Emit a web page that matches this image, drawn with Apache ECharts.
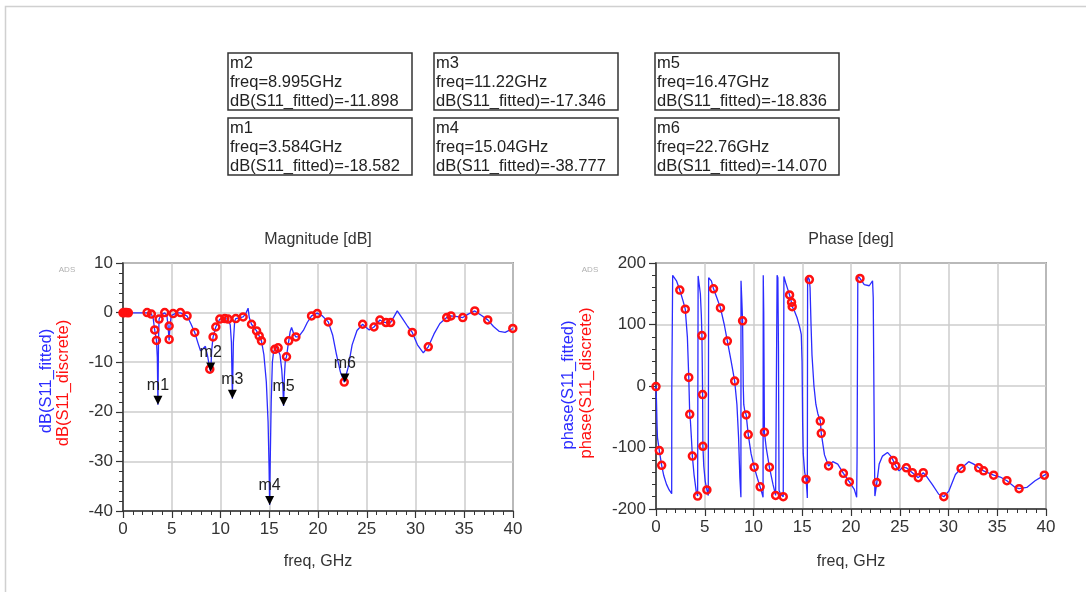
<!DOCTYPE html>
<html>
<head>
<meta charset="utf-8">
<title>S11 fitted / discrete</title>
<script src="https://cdn.jsdelivr.net/npm/echarts@6/dist/echarts.min.js"></script>
<style>
html, body { margin: 0; padding: 0; background: #fff; }
#chart { width: 1086px; height: 592px; }
</style>
</head>
<body>
<div id="chart"></div>
<script>
// ---------------------------数据-------------------------------
// [freq GHz, dB]
var magFitted = [
	[0, -0.05], [0.6, -0.05], [1.2, -0.05], [1.8, -0.05], [2.47, -0.05], [2.91, -0.3], [3.1, -1.2],
	[3.25, -3.5], [3.43, -5.6], [3.52, -9], [3.584, -18.58], [3.64, -6], [3.7, -1.3], [3.95, -0.4],
	[4.28, -0.05], [4.5, -0.6], [4.62, -2.7], [4.73, -5.6], [4.82, -2.7], [4.95, -0.6], [5.14, -0.2],
	[5.5, -0.05], [5.89, -0.05], [6.2, -0.3], [6.57, -0.7], [6.95, -2.2], [7.36, -4.0], [7.7, -6.2],
	[7.95, -7.7], [8.2, -7.3], [8.45, -6.8], [8.7, -9.0], [8.9, -11.4], [8.995, -11.9], [9.1, -7.5],
	[9.24, -4.9], [9.52, -2.9], [9.93, -1.3], [10.44, -1.2], [10.78, -1.3], [11.0, -2.5], [11.12, -6],
	[11.22, -17.35], [11.32, -6], [11.45, -1.8], [11.57, -1.2], [12.0, -1.0], [12.32, -0.87], [12.6, -0.2],
	[12.83, 0.9], [12.95, -1.0], [13.18, -2.35], [13.7, -3.7], [13.97, -4.7], [14.2, -5.7], [14.45, -8.5],
	[14.7, -14], [14.88, -22], [14.98, -31], [15.04, -38.78], [15.1, -30], [15.2, -18], [15.32, -10],
	[15.45, -7.8], [15.57, -7.4], [15.75, -6.9], [15.91, -7.1], [16.1, -8.5], [16.28, -11.5], [16.4, -15],
	[16.47, -18.84], [16.55, -13], [16.65, -9.5], [16.77, -8.9], [16.9, -7], [17.0, -5.7], [17.15, -3.8],
	[17.29, -3.0], [17.5, -4.2], [17.73, -4.9], [18.0, -4.9], [18.5, -3.6], [18.9, -2.0], [19.34, -0.67],
	[19.92, -0.1], [20.4, -0.6], [21.05, -1.87], [21.5, -4.5], [21.9, -8.5], [22.3, -12], [22.69, -14.0],
	[22.76, -14.07], [23.1, -11], [23.5, -6.5], [24.0, -3.6], [24.58, -2.35], [24.95, -3.0], [25.25, -3.5],
	[25.74, -2.9], [26.35, -1.5], [26.7, -1.9], [26.97, -2.0], [27.45, -2.0], [27.8, -0.8], [28.13, 0.34],
	[28.6, -1.0], [29.2, -2.8], [29.67, -4.0], [30.2, -6.5], [30.8, -8.1], [31.31, -6.9], [31.9, -4.3],
	[32.5, -2.2], [33.2, -1.0], [33.64, -0.67], [34.3, -0.8], [34.85, -1.0], [35.4, -0.3], [36.08, 0.34],
	[36.7, -0.5], [37.41, -1.47], [38.0, -2.8], [38.6, -3.8], [39.19, -4.0], [39.6, -3.6], [39.98, -3.2]
];
var magDiscrete = [
	[0, -0.05], [0.15, 0], [0.35, 0], [0.55, -0.05], [2.47, 0], [2.91, -0.3], [3.25, -3.5], [3.43, -5.6],
	[3.7, -1.3], [4.28, 0], [4.73, -2.7], [4.73, -5.4], [5.14, -0.2], [5.89, 0], [6.57, -0.67], [7.36, -4.0],
	[8.9, -11.4], [9.24, -4.9], [9.52, -2.9], [9.93, -1.3], [10.44, -1.2], [10.78, -1.3], [11.57, -1.2],
	[12.32, -0.87], [13.18, -2.35], [13.7, -3.7], [13.97, -4.7], [14.2, -5.7], [15.57, -7.4], [15.91, -7.1],
	[16.77, -8.9], [17.0, -5.7], [17.73, -4.9], [19.34, -0.67], [19.92, -0.2], [21.05, -1.87], [22.69, -14.0],
	[24.58, -2.35], [25.74, -2.9], [26.35, -1.5], [26.97, -2.0], [27.45, -2.0], [29.67, -4.0], [31.31, -6.9],
	[33.2, -1.0], [33.64, -0.67], [34.85, -1.0], [36.08, 0.34], [37.41, -1.47], [39.98, -3.2]
];
// [freq GHz, deg]
var phaseFitted = [
	[0, 0], [0.05, -25], [0.1, -60], [0.15, -84], [0.34, -105], [0.58, -129], [0.8, -146], [1.08, -160],
	[1.35, -169], [1.61, -175], [1.62, -8], [1.7, -8], [1.71, 180],
	[2.1, 171], [2.44, 156], [2.78, 138], [3.0, 125], [3.22, 79], [3.36, 14], [3.46, -46], [3.53, -57],
	[3.63, -84], [3.73, -114], [3.9, -144], [4.14, -173], [4.27, -179], [4.3, -181], [4.32, 179],
	[4.4, 176], [4.55, 150], [4.65, 115], [4.71, 82], [4.75, 30], [4.78, -14], [4.81, -98], [4.9, -130],
	[5.05, -155], [5.22, -169], [5.36, -178], [5.38, -181], [5.4, 176],
	[5.68, 171], [5.9, 158], [6.25, 143], [6.61, 127], [7.0, 100], [7.32, 73], [7.7, 41], [8.07, 8],
	[8.3, -30], [8.47, -84], [8.6, -149], [8.71, -181], [8.72, 171],
	[8.8, 140], [8.88, 106], [8.95, 0], [9.0, -30], [9.1, -40], [9.25, -47], [9.46, -79], [9.75, -110],
	[10.07, -132], [10.4, -150], [10.68, -164], [10.9, -176], [10.98, -181], [11.0, 180],
	[11.05, 120], [11.12, -75], [11.3, -100], [11.63, -132], [12.0, -160], [12.27, -178], [12.4, -181], [12.42, 180],
	[12.5, 176], [12.56, 60], [12.62, -170], [12.8, -176], [13.05, -180], [13.1, -182], [13.12, 178],
	[13.3, 168], [13.5, 158], [13.7, 148], [13.9, 136], [13.97, 129], [14.2, 122], [14.47, 111], [14.75, 95],
	[14.9, 84], [14.98, 40], [15.04, -60], [15.1, -110], [15.25, -140], [15.39, -152], [15.5, -175], [15.52, -182], [15.55, 178],
	[15.73, 173], [15.8, 160], [15.9, 100], [16.0, 50], [16.2, 0], [16.4, -30], [16.6, -45], [16.85, -57],
	[16.95, -77], [17.28, -112], [17.7, -130], [18.13, -123], [18.64, -127], [19.22, -142], [19.83, -156],
	[20.34, -168], [20.58, -181], [20.6, -182], [20.62, -122], [20.7, 179],
	[20.92, 175], [21.36, 165], [21.87, 163], [22.21, 171], [22.28, 144], [22.38, -68], [22.45, -179],
	[22.65, -157], [22.89, -127], [23.23, -114], [23.74, -108], [24.08, -114], [24.32, -121], [24.59, -130],
	[24.93, -138], [25.3, -132], [25.68, -133], [26.29, -141], [26.9, -149], [27.41, -141], [27.8, -148],
	[28.33, -160], [29.0, -176], [29.52, -180], [30.03, -171], [30.71, -144], [31.29, -134], [32.07, -123],
	[32.59, -127], [33.1, -133], [33.6, -138], [34.63, -145], [35.31, -148], [35.99, -154], [36.84, -165],
	[37.24, -167], [38.03, -165], [38.88, -154], [39.83, -145], [40, -143]
];
var phaseDiscrete = [
	[0, -1], [0.34, -105], [0.58, -129], [2.44, 156], [3.0, 125], [3.36, 14], [3.46, -46], [3.73, -114],
	[4.27, -179], [4.71, 82], [4.78, -14], [4.81, -98], [5.22, -169], [5.9, 158], [6.61, 127], [7.32, 73],
	[8.07, 8], [8.88, 106], [9.25, -47], [9.46, -79], [10.07, -132], [10.68, -164], [11.12, -75],
	[11.63, -132], [12.27, -178], [13.05, -180], [13.7, 148], [13.9, 136], [13.97, 129], [15.39, -152],
	[15.73, 173], [16.85, -57], [16.95, -77], [17.7, -130], [19.22, -142], [19.83, -156], [20.92, 175],
	[22.65, -157], [24.32, -121], [24.59, -130], [25.68, -133], [26.29, -141], [26.9, -149], [27.41, -141],
	[29.52, -180], [31.29, -134], [33.1, -133], [33.6, -138], [34.63, -145], [35.99, -154], [37.24, -167],
	[39.83, -145]
];
// 标记 m1..m6
var markerNames = ['m1', 'm2', 'm3', 'm4', 'm5', 'm6'];
var markerFreq = [3.584, 8.995, 11.22, 15.04, 16.47, 22.76];
var markerDb = [-18.582, -11.898, -17.346, -38.777, -18.836, -14.070];

// 轴范围
var freqMin = 0, freqMax = 40, freqStep = 5;
var magMin = -40, magMax = 10, magStep = 10;
var phaseMin = -200, phaseMax = 200, phaseStep = 100;

var FONT = '"Liberation Sans", Arial, sans-serif';
var BLUE = '#2b2bff';
var RED = '#ff1010';

var chart = echarts.init(document.getElementById('chart'));

function axisStyle(extra) {
	var a = {
		type : 'value',
		axisLine : { show : true, onZero : false, lineStyle : { color : '#333', width : 1.5 } },
		axisTick : { show : true, length : 7, lineStyle : { color : '#333', width : 1.2 } },
		minorTick : { show : true, splitNumber : 5, length : 4, lineStyle : { color : '#333', width : 1 } },
		axisLabel : { fontSize : 17, color : '#333', fontFamily : FONT, margin : 10 },
		splitLine : { show : true, lineStyle : { color : '#cccccc', width : 1.5 } }
	};
	for (var k in extra) a[k] = extra[k];
	return a;
}

// ---------------------------标记框-------------------------------
var boxPos = { m2 : [228, 53], m3 : [434, 53], m5 : [655, 53], m1 : [228, 118], m4 : [434, 118], m6 : [655, 118] };
var graphics = [];
markerNames.forEach(function(name, i) {
	var p = boxPos[name];
	graphics.push({
		type : 'rect', shape : { x : p[0], y : p[1], width : 184, height : 57 },
		style : { fill : '#fff', stroke : '#333', lineWidth : 1.5 }
	});
	graphics.push({
		type : 'text', x : p[0] + 2, y : p[1] + 1,
		style : {
			text : name + '\nfreq=' + markerFreq[i].toPrecision(4) + 'GHz\ndB(S11_fitted)=' + markerDb[i].toFixed(3),
			font : '16.5px ' + FONT, fill : '#222', lineHeight : 19
		}
	});
});

function label(text, x, y, size, color, rot) {
	return {
		type : 'text', x : x, y : y, rotation : rot || 0,
		style : { text : text, font : size + 'px ' + FONT, fill : color, align : 'center', verticalAlign : 'middle' }
	};
}
graphics.push(
	{ type : 'polyline', shape : { points : [[5.5, 592], [5.5, 6.5], [1086, 6.5]] }, style : { stroke : '#d0d0d0', lineWidth : 1.5, fill : null } },
	label('Magnitude [dB]', 318, 240, 16, '#333'),
	label('Phase [deg]', 851, 240, 16, '#333'),
	label('freq, GHz', 318, 562, 16, '#333'),
	label('freq, GHz', 851, 562, 16, '#333'),
	label('dB(S11_fitted)', 46, 381, 16.5, BLUE, Math.PI / 2),
	label('dB(S11_discrete)', 63, 383, 16.5, RED, Math.PI / 2),
	label('phase(S11_fitted)', 568, 385, 16.5, BLUE, Math.PI / 2),
	label('phase(S11_discrete)', 586, 383, 16.5, RED, Math.PI / 2),
	label('ADS', 67, 270, 8, '#b0b0b0'),
	label('ADS', 590, 270, 8, '#b0b0b0')
);

chart.setOption({
	animation : false,
	textStyle : { fontFamily : FONT },
	grid : [
		{ left : 123, top : 263, width : 390, height : 248, show : true, borderColor : '#555', borderWidth : 1.5, backgroundColor : 'transparent' },
		{ left : 656, top : 263, width : 390, height : 246, show : true, borderColor : '#555', borderWidth : 1.5, backgroundColor : 'transparent' }
	],
	xAxis : [
		axisStyle({ gridIndex : 0, min : freqMin, max : freqMax, interval : freqStep }),
		axisStyle({ gridIndex : 1, min : freqMin, max : freqMax, interval : freqStep })
	],
	yAxis : [
		axisStyle({ gridIndex : 0, min : magMin, max : magMax, interval : magStep }),
		axisStyle({ gridIndex : 1, min : phaseMin, max : phaseMax, interval : phaseStep })
	],
	series : [ {
		name : 'dB(S11_fitted)', type : 'line', xAxisIndex : 0, yAxisIndex : 0,
		data : magFitted, showSymbol : false, z : 3,
		lineStyle : { color : BLUE, width : 1.3 }
	}, {
		name : 'dB(S11_discrete)', type : 'scatter', xAxisIndex : 0, yAxisIndex : 0,
		data : magDiscrete, symbol : 'circle', symbolSize : 7, z : 4,
		itemStyle : { color : 'rgba(255,255,255,0)', borderColor : RED, borderWidth : 2.5, opacity : 1 }
	}, {
		name : 'markers', type : 'scatter', xAxisIndex : 0, yAxisIndex : 0, z : 5,
		data : markerNames.map(function(n, i) { return { name : n, value : [markerFreq[i], markerDb[i]] }; }),
		symbol : 'path://M0,0L10,0L5,10Z', symbolSize : [9, 9], symbolOffset : [0, -4.5],
		itemStyle : { color : '#000', opacity : 1 },
		label : { show : true, position : 'top', distance : 2, formatter : '{b}', fontSize : 16, color : '#222', fontFamily : FONT }
	}, {
		name : 'phase(S11_fitted)', type : 'line', xAxisIndex : 1, yAxisIndex : 1,
		data : phaseFitted, showSymbol : false, z : 3,
		lineStyle : { color : BLUE, width : 1.3 }
	}, {
		name : 'phase(S11_discrete)', type : 'scatter', xAxisIndex : 1, yAxisIndex : 1,
		data : phaseDiscrete, symbol : 'circle', symbolSize : 7, z : 4,
		itemStyle : { color : 'rgba(255,255,255,0)', borderColor : RED, borderWidth : 2.5, opacity : 1 }
	} ],
	graphic : graphics
});
</script>
</body>
</html>
